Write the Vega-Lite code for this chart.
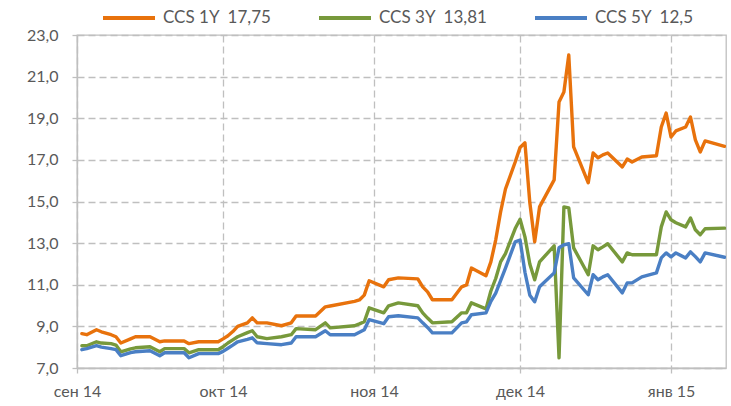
{
  "$schema": "https://vega.github.io/schema/vega-lite/v6.json",
  "autosize": {"type": "none"},
  "padding": {"left": 77, "top": 35, "right": 5, "bottom": 38},
  "width": 649,
  "height": 333,
  "background": "white",
  "config": {
    "view": {"stroke": "#BFBFBF", "strokeWidth": 1.3},
    "font": "Lato, 'Open Sans', sans-serif",
    "axis": {
      "labelFont": "Lato, 'Open Sans', sans-serif",
      "labelFontSize": 16,
      "labelColor": "#595959",
      "domainColor": "#BFBFBF",
      "domainWidth": 1.3,
      "tickColor": "#BFBFBF",
      "tickWidth": 1.3,
      "tickSize": 5,
      "gridColor": "#BFBFBF",
      "gridDash": [7, 4],
      "gridWidth": 1.3,
      "title": null
    },
    "legend": {
      "labelFont": "Lato, 'Open Sans', sans-serif",
      "labelFontSize": 17,
      "labelColor": "#595959"
    }
  },
  "data": {
    "values": [
      {"date": "2014-09-02", "y1": 8.65, "y3": 8.07, "y5": 7.88},
      {"date": "2014-09-03", "y1": 8.6, "y3": 8.07, "y5": 7.93},
      {"date": "2014-09-05", "y1": 8.84, "y3": 8.26, "y5": 8.07},
      {"date": "2014-09-06", "y1": 8.74, "y3": 8.2, "y5": 8.0},
      {"date": "2014-09-08", "y1": 8.6, "y3": 8.17, "y5": 7.93},
      {"date": "2014-09-09", "y1": 8.5, "y3": 8.1, "y5": 7.88},
      {"date": "2014-09-10", "y1": 8.2, "y3": 7.78, "y5": 7.59},
      {"date": "2014-09-12", "y1": 8.4, "y3": 7.92, "y5": 7.74},
      {"date": "2014-09-13", "y1": 8.5, "y3": 7.97, "y5": 7.78},
      {"date": "2014-09-16", "y1": 8.5, "y3": 8.02, "y5": 7.83},
      {"date": "2014-09-18", "y1": 8.26, "y3": 7.78, "y5": 7.59},
      {"date": "2014-09-19", "y1": 8.3, "y3": 7.93, "y5": 7.73},
      {"date": "2014-09-23", "y1": 8.3, "y3": 7.93, "y5": 7.73},
      {"date": "2014-09-24", "y1": 8.17, "y3": 7.73, "y5": 7.49},
      {"date": "2014-09-26", "y1": 8.26, "y3": 7.88, "y5": 7.69},
      {"date": "2014-09-30", "y1": 8.26, "y3": 7.88, "y5": 7.69},
      {"date": "2014-10-01", "y1": 8.4, "y3": 8.02, "y5": 7.8},
      {"date": "2014-10-02", "y1": 8.55, "y3": 8.2, "y5": 7.95},
      {"date": "2014-10-03", "y1": 8.75, "y3": 8.35, "y5": 8.1},
      {"date": "2014-10-04", "y1": 9.0, "y3": 8.5, "y5": 8.26},
      {"date": "2014-10-06", "y1": 9.17, "y3": 8.7, "y5": 8.38},
      {"date": "2014-10-07", "y1": 9.41, "y3": 8.79, "y5": 8.45},
      {"date": "2014-10-08", "y1": 9.17, "y3": 8.5, "y5": 8.21},
      {"date": "2014-10-10", "y1": 9.17, "y3": 8.41, "y5": 8.17},
      {"date": "2014-10-13", "y1": 9.03, "y3": 8.5, "y5": 8.12},
      {"date": "2014-10-15", "y1": 9.17, "y3": 8.6, "y5": 8.2},
      {"date": "2014-10-16", "y1": 9.5, "y3": 8.89, "y5": 8.5},
      {"date": "2014-10-20", "y1": 9.5, "y3": 8.84, "y5": 8.5},
      {"date": "2014-10-22", "y1": 9.94, "y3": 9.17, "y5": 8.79},
      {"date": "2014-10-23", "y1": 9.98, "y3": 8.93, "y5": 8.6},
      {"date": "2014-10-28", "y1": 10.2, "y3": 9.03, "y5": 8.6},
      {"date": "2014-10-29", "y1": 10.27, "y3": 9.12, "y5": 8.72},
      {"date": "2014-10-30", "y1": 10.5, "y3": 9.22, "y5": 8.84},
      {"date": "2014-10-31", "y1": 11.19, "y3": 9.89, "y5": 9.32},
      {"date": "2014-11-03", "y1": 10.9, "y3": 9.65, "y5": 9.13},
      {"date": "2014-11-04", "y1": 11.24, "y3": 9.99, "y5": 9.46},
      {"date": "2014-11-06", "y1": 11.33, "y3": 10.13, "y5": 9.51},
      {"date": "2014-11-10", "y1": 11.28, "y3": 9.99, "y5": 9.41},
      {"date": "2014-11-11", "y1": 10.9, "y3": 9.65, "y5": 9.17},
      {"date": "2014-11-12", "y1": 10.66, "y3": 9.4, "y5": 8.95},
      {"date": "2014-11-13", "y1": 10.28, "y3": 9.17, "y5": 8.69},
      {"date": "2014-11-17", "y1": 10.28, "y3": 9.22, "y5": 8.69},
      {"date": "2014-11-19", "y1": 10.9, "y3": 9.65, "y5": 9.17},
      {"date": "2014-11-20", "y1": 10.99, "y3": 9.65, "y5": 9.22},
      {"date": "2014-11-21", "y1": 11.8, "y3": 10.13, "y5": 9.56},
      {"date": "2014-11-24", "y1": 11.43, "y3": 9.84, "y5": 9.65},
      {"date": "2014-11-25", "y1": 12.1, "y3": 10.7, "y5": 10.2},
      {"date": "2014-11-26", "y1": 13.16, "y3": 11.3, "y5": 10.6},
      {"date": "2014-11-27", "y1": 14.5, "y3": 12.1, "y5": 11.2},
      {"date": "2014-11-28", "y1": 15.6, "y3": 12.5, "y5": 11.8},
      {"date": "2014-11-30", "y1": 16.9, "y3": 13.7, "y5": 13.06},
      {"date": "2014-12-01", "y1": 17.6, "y3": 14.15, "y5": 13.15},
      {"date": "2014-12-02", "y1": 17.82, "y3": 13.3, "y5": 11.6},
      {"date": "2014-12-03", "y1": 14.95, "y3": 12.0, "y5": 10.5},
      {"date": "2014-12-04", "y1": 13.06, "y3": 11.24, "y5": 10.18},
      {"date": "2014-12-05", "y1": 14.74, "y3": 12.1, "y5": 10.9},
      {"date": "2014-12-08", "y1": 16.04, "y3": 12.87, "y5": 11.57},
      {"date": "2014-12-09", "y1": 19.78, "y3": 7.49, "y5": 12.78},
      {"date": "2014-12-10", "y1": 20.26, "y3": 14.74, "y5": 12.92},
      {"date": "2014-12-11", "y1": 22.04, "y3": 14.69, "y5": 12.97},
      {"date": "2014-12-12", "y1": 17.62, "y3": 12.77, "y5": 11.33},
      {"date": "2014-12-15", "y1": 15.9, "y3": 11.48, "y5": 10.52},
      {"date": "2014-12-16", "y1": 17.33, "y3": 12.87, "y5": 11.48},
      {"date": "2014-12-17", "y1": 17.1, "y3": 12.68, "y5": 11.24},
      {"date": "2014-12-18", "y1": 17.24, "y3": 12.82, "y5": 11.38},
      {"date": "2014-12-19", "y1": 17.33, "y3": 12.97, "y5": 11.48},
      {"date": "2014-12-22", "y1": 16.66, "y3": 12.1, "y5": 10.61},
      {"date": "2014-12-23", "y1": 17.04, "y3": 12.53, "y5": 11.09},
      {"date": "2014-12-24", "y1": 16.9, "y3": 12.44, "y5": 11.09},
      {"date": "2014-12-26", "y1": 17.14, "y3": 12.44, "y5": 11.38},
      {"date": "2014-12-29", "y1": 17.2, "y3": 12.44, "y5": 11.57},
      {"date": "2014-12-30", "y1": 18.58, "y3": 13.78, "y5": 12.29},
      {"date": "2014-12-31", "y1": 19.25, "y3": 14.5, "y5": 12.53},
      {"date": "2015-01-01", "y1": 18.1, "y3": 14.12, "y5": 12.34},
      {"date": "2015-01-02", "y1": 18.39, "y3": 13.98, "y5": 12.53},
      {"date": "2015-01-04", "y1": 18.58, "y3": 13.78, "y5": 12.29},
      {"date": "2015-01-05", "y1": 19.06, "y3": 14.21, "y5": 12.58},
      {"date": "2015-01-06", "y1": 17.96, "y3": 13.64, "y5": 12.35},
      {"date": "2015-01-07", "y1": 17.38, "y3": 13.4, "y5": 12.1},
      {"date": "2015-01-08", "y1": 17.91, "y3": 13.69, "y5": 12.53},
      {"date": "2015-01-12", "y1": 17.65, "y3": 13.72, "y5": 12.32}
    ]
  },
  "transform": [
    {"fold": ["y1", "y3", "y5"], "as": ["series", "value"]}
  ],
  "mark": {"type": "line", "strokeWidth": 3.4, "strokeCap": "round", "strokeJoin": "round", "clip": true},
  "encoding": {
    "x": {
      "field": "date",
      "type": "temporal",
      "timeUnit": "utcyearmonthdate",
      "scale": {
        "domain": [
          {"year": 2014, "month": 9, "date": 1, "utc": true},
          {"year": 2015, "month": 1, "date": 12, "hours": 7, "utc": true}
        ],
        "nice": false
      },
      "axis": {
        "values": [
          {"year": 2014, "month": 9, "date": 1, "utc": true},
          {"year": 2014, "month": 10, "date": 1, "utc": true},
          {"year": 2014, "month": 11, "date": 1, "utc": true},
          {"year": 2014, "month": 12, "date": 1, "utc": true},
          {"year": 2015, "month": 1, "date": 1, "utc": true}
        ],
        "labelExpr": "['янв','фев','мар','апр','май','июн','июл','авг','сен','окт','ноя','дек'][utcmonth(datum.value)] + ' ' + utcFormat(datum.value, '%y')",
        "labelPadding": 10,
        "labelFlush": false,
        "labelOverlap": false,
        "grid": true
      }
    },
    "y": {
      "field": "value",
      "type": "quantitative",
      "scale": {"domain": [7, 23], "nice": false, "zero": false},
      "axis": {
        "values": [7, 9, 11, 13, 15, 17, 19, 21, 23],
        "labelExpr": "replace(format(datum.value, '.1f'), '.', ',')",
        "labelPadding": 14,
        "grid": true
      }
    },
    "color": {
      "field": "series",
      "type": "nominal",
      "scale": {"domain": ["y1", "y3", "y5"], "range": ["#E8720C", "#77993B", "#4A7FC4"]},
      "legend": {
        "orient": "none",
        "direction": "horizontal",
        "legendX": 24,
        "legendY": -45,
        "title": null,
        "symbolType": "stroke",
        "symbolSize": 2704,
        "symbolStrokeWidth": 4,
        "labelOffset": 6,
        "columnPadding": 40,
        "labelExpr": "datum.label == 'y1' ? 'CCS 1Y\u00a0 17,75' : datum.label == 'y3' ? 'CCS 3Y\u00a0 13,81' : 'CCS 5Y\u00a0 12,5'"
      }
    }
  }
}
